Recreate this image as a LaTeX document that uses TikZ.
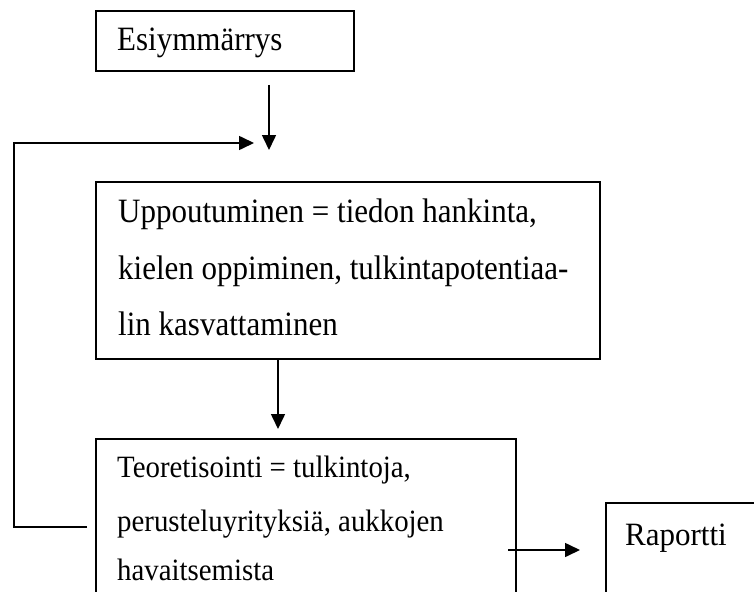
\documentclass[tikz,border=0pt]{standalone}
\usepackage{fontspec}
\setmainfont{Liberation Serif}
\usetikzlibrary{arrows.meta,calc}
\newcommand{\tallt}[1]{\scalebox{1}[1.1]{#1}}
\newcommand{\narrowt}[1]{\scalebox{0.93}[1]{#1}}
\begin{document}
\begin{tikzpicture}[x=1pt,y=-1pt,
  box/.style={draw, line width=1.6pt, inner sep=0pt, anchor=north west},
  lbl/.style={anchor=base west, inner sep=0pt, font=\fontsize{31}{31}\selectfont},
  arr/.style={-{Triangle[length=15pt,width=14pt]}, line width=1.6pt}]
\useasboundingbox (0,0) rectangle (754,591);
\clip (0,0) rectangle (754,591);
% boxes
\node[box, minimum width=258pt, minimum height=60pt] (esi) at (95,10) {};
\node[box, minimum width=504pt, minimum height=177pt] (upp) at (95,181) {};
\node[box, minimum width=420pt, minimum height=200pt] (teo) at (95,438) {};
\node[box, minimum width=250pt, minimum height=150pt] (rap) at (605,502) {};
% texts
\node[lbl] (t1) at (117,51) {\tallt{Esiymmärrys}};
\node[lbl] (t2) at (118,222) {\tallt{Uppoutuminen = tiedon hankinta,}};
\node[lbl] (t3) at (118,279) {\tallt{kielen oppiminen, tulkintapotentiaa-}};
\node[lbl] (t4) at (118,335) {\tallt{lin kasvattaminen}};
\node[lbl] (t5) at (117,477) {\narrowt{Teoretisointi = tulkintoja,}};
\node[lbl] (t6) at (117,531) {\narrowt{perusteluyrityksiä, aukkojen}};
\node[lbl] (t7) at (117,580) {\narrowt{havaitsemista}};
\node[lbl] (t8) at (625,545) {\scalebox{1}[1.05]{Raportti}};
% connector ends
\coordinate (a1s) at (269,85);
\coordinate (a1e) at (269,150);
\coordinate (fbs) at (87,527);
\coordinate (fbb) at (14,527);
\coordinate (fbt) at (14,143);
\coordinate (fbe) at (254,143);
\coordinate (a2s) at ($(upp.south west)+(183,0)$);
\coordinate (a2e) at ($(teo.north west)+(183,-9)$);
\coordinate (a3s) at (508,550);
\coordinate (a3e) at (580,550);
% connectors
\draw[arr] (a1s) -- (a1e);
\draw[arr] (fbs) -- (fbb) -- (fbt) -- (fbe);
\draw[arr] (a2s) -- (a2e);
\draw[arr] (a3s) -- (a3e);
\end{tikzpicture}
\end{document}
